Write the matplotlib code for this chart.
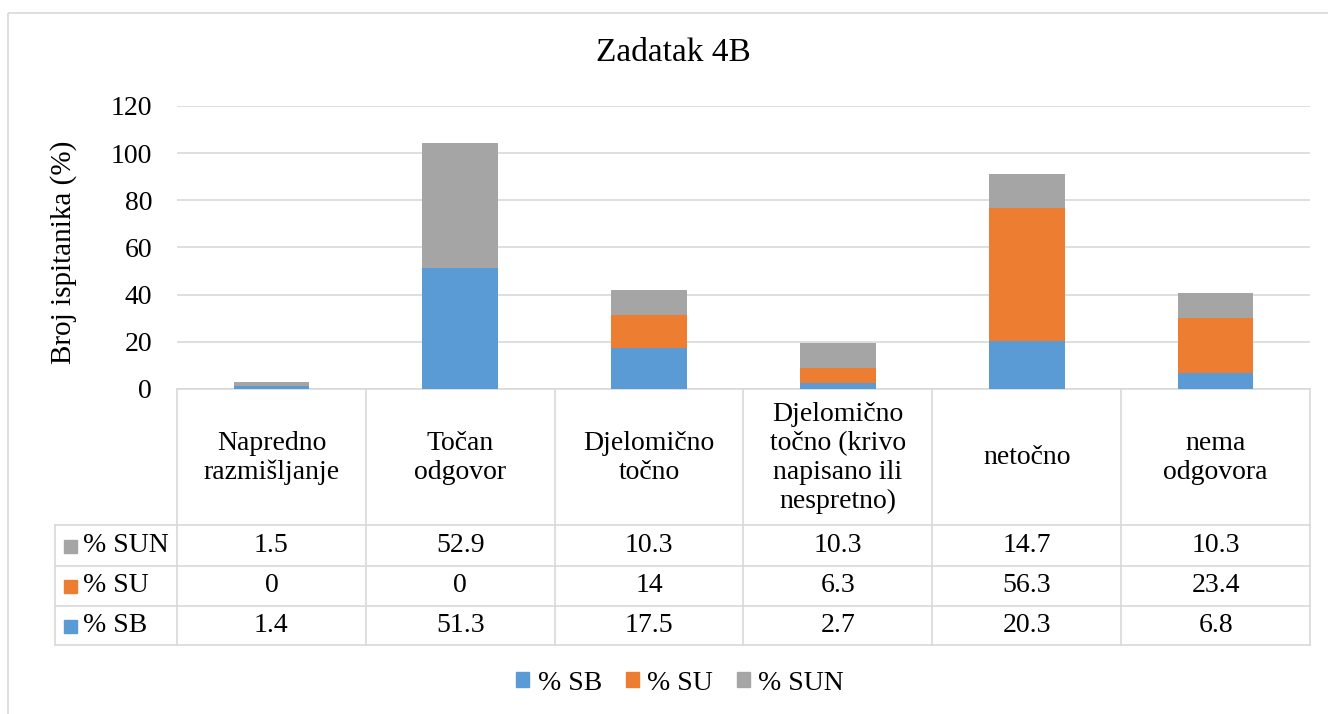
import matplotlib
matplotlib.use("Agg")
import matplotlib.pyplot as plt
from matplotlib.patches import Rectangle, Patch
import numpy as np

kategorije = ["Napredno\nrazmišljanje", "Točan\nodgovor", "Djelomično\ntočno",
              "Djelomično\ntočno (krivo\nnapisano ili\nnespretno)", "netočno",
              "nema\nodgovora"]
serije = ["% SB", "% SU", "% SUN"]
sb = [1.4, 51.3, 17.5, 2.7, 20.3, 6.8]
su = [0, 0, 14, 6.3, 56.3, 23.4]
sun = [1.5, 52.9, 10.3, 10.3, 14.7, 10.3]
yticks = [0, 20, 40, 60, 80, 100, 120]

boje = ["#5B9BD5", "#ED7D31", "#A5A5A5"]
linija = "#d9d9d9"
plt.rcParams['font.family'] = ['Liberation Serif', 'DejaVu Serif']
fs = 20

W, H = 1328, 714
fig = plt.figure(figsize=(W / 100, H / 100), dpi=100)

# overlay in pixel coords for frame, table and labels
ov = fig.add_axes([0, 0, 1, 1])
ov.set_xlim(0, W)
ov.set_ylim(H, 0)
ov.axis('off')
ov.add_patch(Rectangle((8, 13), W + 20, H + 20, fill=False, edgecolor=linija, lw=1.2))

x0, x1, ytop, ybot = 177, 1310, 106, 389
ax = fig.add_axes([x0 / W, 1 - ybot / H, (x1 - x0) / W, (ybot - ytop) / H])
x = np.arange(len(kategorije))
dno = np.zeros(len(x))
for vals, boja in zip([sb, su, sun], boje):
    ax.bar(x, vals, 0.4, bottom=dno, color=boja, zorder=2)
    dno += np.array(vals)
ax.set_xlim(-0.5, len(x) - 0.5)
ax.set_ylim(0, 120)
ax.set_yticks(yticks)
ax.set_xticks([])
ax.grid(axis='y', color=linija, lw=1.2, zorder=0)
for s in ax.spines.values():
    s.set_visible(False)
ax.tick_params(axis='y', length=0, labelsize=fs, pad=18)
ax.patch.set_alpha(0)

fig.text(673 / W, 1 - 53 / H, "Zadatak 4B", ha='center', va='center', fontsize=24)
fig.text(64 / W, 1 - 252 / H, "Broj ispitanika (%)", ha='center', va='center',
         rotation=90, fontsize=21)

# table
granice = [ax.transData.transform((i - 0.5, 0))[0] for i in range(len(x) + 1)]
redovi = [389, 525, 566, 606, 645]
lijevo = 55
kw = dict(color=linija, lw=1.2)
ov.plot([granice[0], granice[-1]], [redovi[0], redovi[0]], **kw)
for r in redovi[1:]:
    ov.plot([lijevo, granice[-1]], [r, r], **kw)
for g in granice:
    ov.plot([g, g], [redovi[0], redovi[-1]], **kw)
ov.plot([lijevo, lijevo], [redovi[1], redovi[-1]], **kw)

for i, k in enumerate(kategorije):
    cx = (granice[i] + granice[i + 1]) / 2
    ov.text(cx, (redovi[0] + redovi[1]) / 2 + 1, k, ha='center', va='center',
            fontsize=fs, linespacing=1.22)

tablica = [("% SUN", sun, boje[2]), ("% SU", su, boje[1]), ("% SB", sb, boje[0])]
for j, (ime, vals, boja) in enumerate(tablica):
    cy = (redovi[j + 1] + redovi[j + 2]) / 2
    ov.add_patch(Rectangle((64, cy - 6), 13, 13, color=boja))
    ov.text(83, cy, ime, ha='left', va='center', fontsize=fs)
    for i, v in enumerate(vals):
        cx = (granice[i] + granice[i + 1]) / 2
        ov.text(cx, cy, f"{v:g}", ha='center', va='center', fontsize=fs)

ruke = [Patch(color=b, label=s) for s, b in zip(serije, boje)]
fig.legend(handles=ruke, loc='center', bbox_to_anchor=(680 / W, 1 - 683 / H),
           ncol=3, frameon=False, fontsize=fs, handlelength=0.48, handleheight=0.48,
           handletextpad=0.3, columnspacing=0.85)

fig.savefig("out.png", dpi=100)
